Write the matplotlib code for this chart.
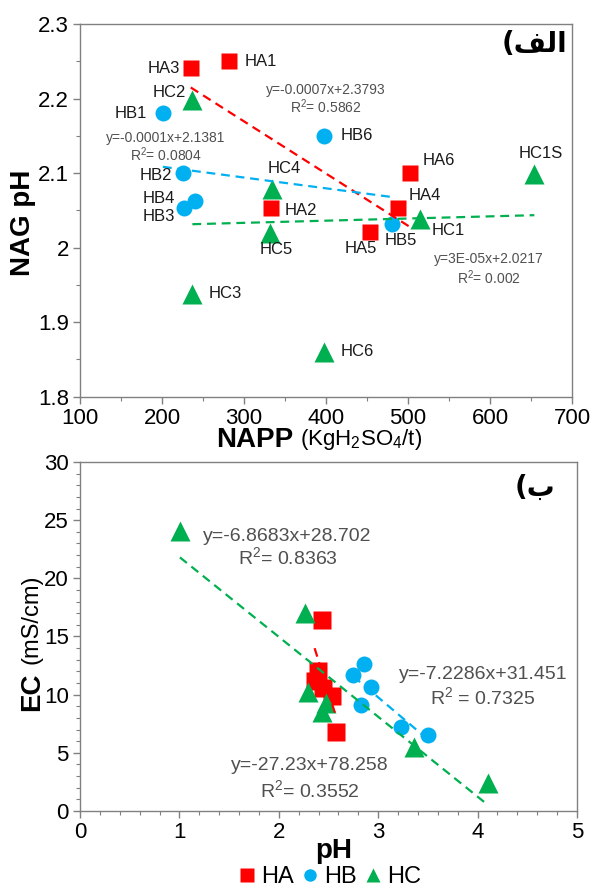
import matplotlib
matplotlib.use('Agg')
import matplotlib.pyplot as plt
import numpy as np
from matplotlib.ticker import MultipleLocator
from matplotlib.lines import Line2D

plt.rcParams['font.family'] = ['Liberation Sans', 'DejaVu Sans']
plt.rcParams['mathtext.fontset'] = 'custom'
plt.rcParams['mathtext.rm'] = 'Liberation Sans'
plt.rcParams['mathtext.it'] = 'Liberation Sans:italic'
plt.rcParams['mathtext.bf'] = 'Liberation Sans:bold'
plt.rcParams['mathtext.default'] = 'regular'

# --- top panel: NAG pH vs NAPP ---
ha_names = ['HA1', 'HA2', 'HA3', 'HA4', 'HA5', 'HA6']
ha_napp = [282, 333, 235, 488, 454, 502]
ha_nag = [2.25, 2.053, 2.241, 2.053, 2.021, 2.10]

hb_names = ['HB1', 'HB2', 'HB3', 'HB4', 'HB5', 'HB6']
hb_napp = [201, 225, 227, 240, 481, 398]
hb_nag = [2.18, 2.10, 2.053, 2.062, 2.031, 2.15]

hc_names = ['HC1', 'HC2', 'HC3', 'HC4', 'HC5', 'HC6', 'HC1S']
hc_napp = [514, 237, 237, 334, 332, 397, 654]
hc_nag = [2.039, 2.198, 1.938, 2.079, 2.020, 1.86, 2.099]

# trendline coefficients (slope, intercept)
fit_top = {'HA': (-0.0007, 2.3793), 'HB': (-0.000145, 2.1375), 'HC': (2.9e-5, 2.0245)}
eq_top = {'HA': ('y=-0.0007x+2.3793', 'R$^{2}$= 0.5862'),
          'HB': ('y=-0.0001x+2.1381', 'R$^{2}$= 0.0804'),
          'HC': ('y=3E-05x+2.0217', 'R$^{2}$= 0.002')}

# --- bottom panel: EC vs pH ---
ha_ph = [2.43, 2.39, 2.36, 2.44, 2.53, 2.58]
ha_ec = [16.4, 12.0, 11.2, 10.6, 9.9, 6.8]
hb_ph = [2.86, 2.75, 2.93, 2.83, 3.23, 3.50]
hb_ec = [12.6, 11.7, 10.7, 9.1, 7.2, 6.5]
hc_ph = [1.005, 2.26, 2.29, 2.43, 2.47, 3.36, 4.10]
hc_ec = [24.1, 17.0, 10.2, 8.5, 9.3, 5.5, 2.4]

fit_bot = {'HA': (-27.23, 78.258), 'HB': (-7.2286, 31.451), 'HC': (-6.8683, 28.702)}
eq_bot = {'HA': ('y=-27.23x+78.258', 'R$^{2}$= 0.3552'),
          'HB': ('y=-7.2286x+31.451', 'R$^{2}$ = 0.7325'),
          'HC': ('y=-6.8683x+28.702', 'R$^{2}$= 0.8363')}

RED = '#FF0000'
BLUE = '#00B0F0'
GREEN = '#00B050'
EQC = '#505050'
SPINE = '#808080'
LBL = '#1a1a1a'

fig = plt.figure(figsize=(5.99, 8.91), dpi=100)
ax1 = fig.add_axes([0.1336, 0.5548, 0.8214, 0.4183])
ax2 = fig.add_axes([0.1336, 0.0898, 0.8297, 0.3917])


def style(ax):
    for s in ax.spines.values():
        s.set_color(SPINE)
        s.set_linewidth(1.0)
    ax.tick_params(which='both', direction='out', color=SPINE, labelsize=16,
                   top=False, right=False)
    ax.tick_params(which='major', length=5, width=1, pad=3)
    ax.tick_params(which='minor', length=3, width=0.8)


def trend(ax, xs, coef, color):
    x = np.array([min(xs), max(xs)])
    ax.plot(x, coef[0] * x + coef[1], color=color, lw=1.6, ls=(0, (4, 2.6)), zorder=4)


# top panel
ax1.plot(ha_napp, ha_nag, 's', color=RED, ms=12.2, mec='none', zorder=3)
ax1.plot(hb_napp, hb_nag, 'o', color=BLUE, ms=11.5, mec='none', zorder=3)
ax1.plot(hc_napp, hc_nag, '^', color=GREEN, ms=14, mec='none', zorder=3)
trend(ax1, ha_napp, fit_top['HA'], RED)
trend(ax1, hb_napp, fit_top['HB'], BLUE)
trend(ax1, hc_napp, fit_top['HC'], GREEN)

# label offsets in pixels (dx, dy, ha)
offs = {'HA1': (15, 0, 'left'), 'HA2': (14, -2, 'left'), 'HA3': (-11, -1, 'right'),
        'HA4': (10, 13, 'left'), 'HA5': (-10, -17, 'center'), 'HA6': (13, 13, 'left'),
        'HB1': (-16, 0, 'right'), 'HB2': (-10, -2, 'right'), 'HB3': (-9, -8, 'right'),
        'HB4': (-20, 3, 'right'), 'HB5': (8, -16, 'center'), 'HB6': (16, 0, 'left'),
        'HC1': (12, -12, 'left'), 'HC2': (-6, 7, 'right'), 'HC3': (16, 0, 'left'),
        'HC4': (12, 20, 'center'), 'HC5': (6, -17, 'center'), 'HC6': (17, 0, 'left'),
        'HC1S': (6, 20, 'center')}
for names, xs, ys in [(ha_names, ha_napp, ha_nag), (hb_names, hb_napp, hb_nag),
                      (hc_names, hc_napp, hc_nag)]:
    for n, x, y in zip(names, xs, ys):
        dx, dy, ha = offs[n]
        ax1.annotate(n, (x, y), xytext=(dx, dy), textcoords='offset pixels',
                     ha=ha, va='center', fontsize=12, color=LBL, zorder=5)

for key, (fx, fy1, fy2) in {'HA': (0.50, 0.823, 0.778), 'HB': (0.174, 0.694, 0.649),
                            'HC': (0.831, 0.369, 0.318)}.items():
    ax1.text(fx, fy1, eq_top[key][0], transform=ax1.transAxes, ha='center', va='center',
             fontsize=10, color=EQC)
    ax1.text(fx, fy2, eq_top[key][1], transform=ax1.transAxes, ha='center', va='center',
             fontsize=10, color=EQC)

ax1.set_xlim(100, 700)
ax1.set_ylim(1.8, 2.3)
ax1.xaxis.set_major_locator(MultipleLocator(100))
ax1.xaxis.set_minor_locator(MultipleLocator(50))
ax1.yaxis.set_major_locator(MultipleLocator(0.1))
ax1.yaxis.set_minor_locator(MultipleLocator(0.05))
ax1.set_yticks([1.8, 1.9, 2.0, 2.1, 2.2, 2.3])
ax1.set_yticklabels(['1.8', '1.9', '2', '2.1', '2.2', '2.3'])
style(ax1)
ax1.text(0.99, 0.945, '(\uFED2\uFEDF\uFE8D', transform=ax1.transAxes, ha='right',
         va='center', fontsize=20, fontweight='bold', family='DejaVu Sans')

# bottom panel
ax2.plot(ha_ph, ha_ec, 's', color=RED, ms=13, mec='none', zorder=3)
ax2.plot(hb_ph, hb_ec, 'o', color=BLUE, ms=11.5, mec='none', zorder=3)
ax2.plot(hc_ph, hc_ec, '^', color=GREEN, ms=14, mec='none', zorder=3)
trend(ax2, ha_ph, fit_bot['HA'], RED)
trend(ax2, hb_ph, fit_bot['HB'], BLUE)
trend(ax2, hc_ph, fit_bot['HC'], GREEN)

for key, (fx, fy1, fy2) in {'HC': (0.4175, 0.786, 0.728), 'HB': (0.811, 0.39, 0.3275),
                            'HA': (0.462, 0.129, 0.060)}.items():
    ax2.text(fx, fy1, eq_bot[key][0], transform=ax2.transAxes, ha='center', va='center',
             fontsize=14, color=EQC)
    ax2.text(fx, fy2, eq_bot[key][1], transform=ax2.transAxes, ha='center', va='center',
             fontsize=14, color=EQC)

ax2.set_xlim(0, 5)
ax2.set_ylim(0, 30)
ax2.xaxis.set_major_locator(MultipleLocator(1))
ax2.xaxis.set_minor_locator(MultipleLocator(0.2))
ax2.yaxis.set_major_locator(MultipleLocator(5))
ax2.yaxis.set_minor_locator(MultipleLocator(1))
style(ax2)
ax2.text(0.956, 0.927, '(\uFE8F', transform=ax2.transAxes, ha='right',
         va='center', fontsize=20, fontweight='bold', family='DejaVu Sans')

# axis titles
fig.text(22.5 / 599, 1 - 223 / 891, 'NAG pH', rotation=90, ha='center', va='center',
         fontsize=20, fontweight='bold')
fig.text(293 / 599, 1 - 440 / 891, 'NAPP', ha='right', va='center',
         fontsize=20, fontweight='bold')
fig.text(300 / 599, 1 - 440 / 891, '(KgH$_2$SO$_4$/t)', ha='left', va='center', fontsize=16)
fig.text(32 / 599, 1 - 692 / 891, 'EC', rotation=90, ha='center', va='center',
         fontsize=20, fontweight='bold')
fig.text(32 / 599, 1 - 619 / 891, '(mS/cm)', rotation=90, ha='center', va='center', fontsize=17)
fig.text(334 / 599, 1 - 851 / 891, 'pH', ha='center', va='center', fontsize=20,
         fontweight='bold')

handles = [Line2D([], [], marker='s', ls='none', color=RED, ms=9.5, mec='none'),
           Line2D([], [], marker='o', ls='none', color=BLUE, ms=9, mec='none'),
           Line2D([], [], marker='^', ls='none', color=GREEN, ms=9.5, mec='none')]
fig.legend(handles, ['HA', 'HB', 'HC'], loc='center', bbox_to_anchor=(330 / 599, 1 - 877 / 891),
           ncol=3, frameon=False, fontsize=17, handlelength=0.7, handletextpad=0.25,
           columnspacing=0.35, borderpad=0)

fig.savefig('out.png', dpi=100)
